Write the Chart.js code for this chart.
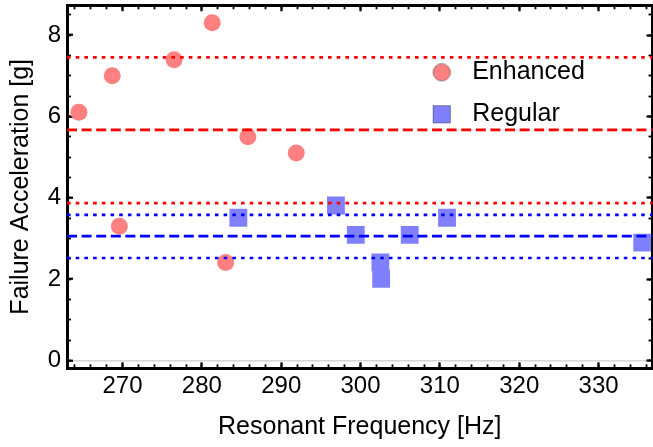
<!DOCTYPE html>
<html><head><meta charset="utf-8">
<script src="https://cdn.jsdelivr.net/npm/chart.js@4/dist/chart.umd.min.js"></script>
<style>html,body{margin:0;padding:0;background:#fff;}#wrap{width:653px;height:447px;}</style>
</head><body><div id="wrap"><canvas id="c" width="653" height="447"></canvas></div>
<script>
// ---- data ----
const enhancedFreq  = [264.5, 268.7, 269.6, 276.5, 281.3, 283.0, 285.8, 291.9];
const enhancedAccel = [6.10, 7.00, 3.30, 7.39, 8.30, 2.41, 5.50, 5.10];
const regularFreq   = [284.6, 296.9, 299.4, 302.5, 302.6, 306.2, 310.9, 335.5];
const regularAccel  = [3.51, 3.81, 3.09, 2.41, 2.01, 3.09, 3.51, 2.90];
// horizontal reference levels: lower, mean, upper
const enhancedLevels = [3.87, 5.67, 7.45];
const regularLevels  = [2.52, 3.06, 3.58];
const levelKinds     = ['dotted', 'dashed', 'dotted'];
const xRange = [263.0, 336.8];
const yRange = [-0.19, 8.73];
const xMajorTicks = [270, 280, 290, 300, 310, 320, 330];
const xMinorTicks = [264, 266, 268, 270, 272, 274, 276, 278, 280, 282, 284, 286, 288, 290, 292, 294, 296, 298, 300, 302, 304, 306, 308, 310, 312, 314, 316, 318, 320, 322, 324, 326, 328, 330, 332, 334, 336];
const yMajorTicks = [0, 2, 4, 6, 8];
const yMinorTicks = [0, 0.5, 1, 1.5, 2, 2.5, 3, 3.5, 4, 4.5, 5, 5.5, 6, 6.5, 7, 7.5, 8, 8.5];
const seriesNames = ['Enhanced', 'Regular'];
const xTitle = 'Resonant Frequency [Hz]';
const yTitle = 'Failure Acceleration [g]';

// ---- styling ----
const FONT = "'Liberation Sans', Arial, sans-serif";
const W = 653, H = 447;
const AREA = {left: 67, right: 652.5, top: 5.3, bottom: 368.3};
const RED = '#ff0000', BLUE = '#0000ff';
const PINK = 'rgb(255,128,128)', LILAC = 'rgb(128,128,255)';

function pts(xs, ys) { return xs.map((x, i) => ({x: x, y: ys[i]})); }
function levelSets(levels, color) {
  return levels.map((v, i) => ({
    label: '_lvl',
    data: [{x: xRange[0], y: v}, {x: xRange[1], y: v}],
    showLine: true, pointRadius: 0, borderColor: color,
    borderWidth: 2.7, borderCapStyle: 'butt',
    borderDash: levelKinds[i] === 'dashed' ? [10, 4.6] : [3.6, 5.1],
    order: -1
  }));
}
function marker(shape, fill, stroke) {
  const c = document.createElement('canvas'); c.width = 20; c.height = 20;
  const g = c.getContext('2d');
  g.fillStyle = fill; g.strokeStyle = stroke; g.lineWidth = 1;
  if (shape === 'circle') { g.beginPath(); g.arc(10, 10, 8.6, 0, Math.PI * 2); g.fill(); g.stroke(); }
  else { g.fillRect(1.5, 1.5, 17, 17); g.strokeRect(1.5, 1.5, 17, 17); }
  return c;
}
const legendMarks = {
  Enhanced: marker('circle', PINK, 'rgba(110,90,90,0.75)'),
  Regular: marker('rect', LILAC, 'rgba(70,70,130,0.75)')
};
function setTicks(list) { return (s) => { s.ticks = list.map(v => ({value: v})); }; }
function zeroPad(s) { s.paddingTop = 0; s.paddingBottom = 0; s.paddingLeft = 0; s.paddingRight = 0; }

function frameAxis(pos, list, len, width, border, weight, extra) {
  const horiz = pos === 'top' || pos === 'bottom';
  const range = horiz ? xRange : yRange;
  return Object.assign({
    type: 'linear', position: pos, weight: weight,
    min: range[0], max: range[1],
    afterBuildTicks: setTicks(list),
    ticks: {display: false},
    grid: {drawOnChartArea: false, drawTicks: true, tickLength: len, tickWidth: width, tickColor: '#000', color: 'rgba(0,0,0,0)'},
    border: {display: border, color: '#000', width: 3},
    afterFit: (s) => { if (horiz) s.height = 0; else s.width = 0; zeroPad(s); }
  }, extra || {});
}

const legendPlace = {
  id: 'legendPlace',
  beforeDraw(chart) {
    const lg = chart.legend; if (!lg) return;
    lg.left = 406.7; lg.top = 42.8; lg.right = W; lg.bottom = 250;
    lg.width = lg.right - lg.left; lg.height = lg.bottom - lg.top;
  }
};

Chart.defaults.font.family = FONT;
Chart.defaults.color = '#000';

new Chart(document.getElementById('c'), {
  type: 'scatter',
  data: {
    datasets: [
      {label: seriesNames[0], data: pts(enhancedFreq, enhancedAccel), pointStyle: 'circle', pointRadius: 8.5,
       backgroundColor: PINK, borderWidth: 0, order: 1},
      {label: seriesNames[1], data: pts(regularFreq, regularAccel), pointStyle: 'rect', pointRadius: 12.6,
       backgroundColor: LILAC, borderWidth: 0, order: 2}
    ].concat(levelSets(enhancedLevels, RED), levelSets(regularLevels, BLUE))
  },
  options: {
    responsive: false, animation: false, devicePixelRatio: 1,
    layout: {autoPadding: false, padding: {left: 0, right: W - AREA.right, top: AREA.top, bottom: 0}},
    plugins: {
      tooltip: {enabled: false},
      legend: {
        position: 'chartArea', align: 'start',
        labels: {
          usePointStyle: true, pointStyleWidth: 36, padding: 17,
          font: {family: FONT, size: 25}, color: '#000',
          generateLabels(chart) {
            const items = Chart.defaults.plugins.legend.labels.generateLabels(chart);
            return items.filter(it => seriesNames.includes(it.text)).map(it => Object.assign(it, {pointStyle: legendMarks[it.text]}));
          }
        }
      }
    },
    scales: {
      x: {
        type: 'linear', position: 'bottom', weight: 10, min: xRange[0], max: xRange[1],
        afterBuildTicks: setTicks(xMajorTicks),
        ticks: {font: {family: FONT, size: 24}, color: '#000', padding: 10, maxRotation: 0, autoSkip: false, callback: v => String(v)},
        grid: {drawOnChartArea: false, tickLength: -6, tickWidth: 2.2, tickColor: '#000', color: 'rgba(0,0,0,0)'},
        border: {display: true, color: '#000', width: 3},
        title: {display: true, text: xTitle, font: {family: FONT, size: 25}, color: '#000', padding: {top: 0, bottom: 4.4}},
        afterFit: (s) => { s.height = H - AREA.bottom; zeroPad(s); }
      },
      xMinor: frameAxis('bottom', xMinorTicks, -4, 1.8, false, 0),
      xTop: frameAxis('top', xMajorTicks, -6, 2.2, true, 10),
      xTopMinor: frameAxis('top', xMinorTicks, -4, 1.8, false, 0),
      y: {
        type: 'linear', position: 'left', weight: 10, min: yRange[0], max: yRange[1],
        afterBuildTicks: setTicks(yMajorTicks),
        ticks: {font: {family: FONT, size: 24}, color: '#000', padding: 12, callback: v => String(v)},
        grid: {drawOnChartArea: true, tickLength: -6, tickWidth: 2.2, tickColor: '#000', lineWidth: 1.5,
               color: (ctx) => (ctx.tick && ctx.tick.value === 0) ? '#d6d6d6' : 'rgba(0,0,0,0)'},
        border: {display: true, color: '#000', width: 3},
        title: {display: true, text: yTitle, font: {family: FONT, size: 25}, color: '#000', padding: {top: 6.3, bottom: 0}},
        afterFit: (s) => { s.width = AREA.left; zeroPad(s); }
      },
      yMinor: frameAxis('left', yMinorTicks, -4, 1.8, false, 0),
      yRight: frameAxis('right', yMajorTicks, -6, 2.2, true, 10),
      yRightMinor: frameAxis('right', yMinorTicks, -4, 1.8, false, 0)
    }
  },
  plugins: [legendPlace]
});
</script>
</body></html>
